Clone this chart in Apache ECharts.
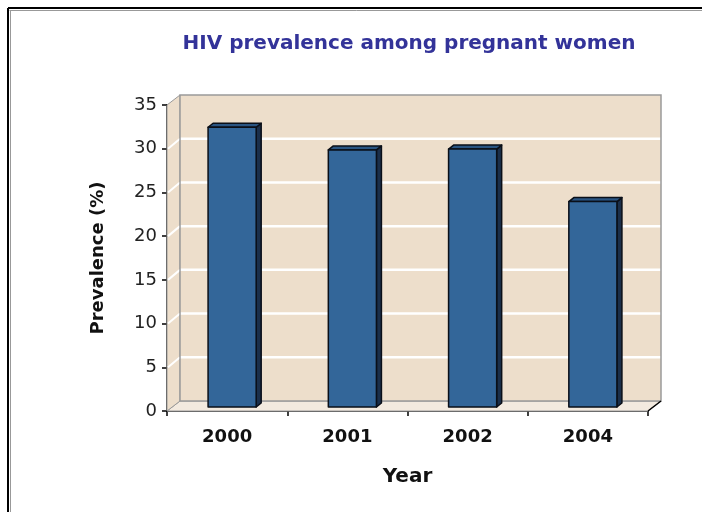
<!DOCTYPE html>
<html>
<head>
<meta charset="utf-8">
<script src="https://cdn.jsdelivr.net/npm/echarts@6/dist/echarts.min.js"></script>
<style>
html,body{margin:0;padding:0;background:#fff;}
#chart{width:702px;height:512px;}
</style>
</head>
<body>
<div id="chart"></div>
<script>
var titleText = 'HIV prevalence among pregnant women';
var years = ['2000', '2001', '2002', '2004'];
var prevalence = [32.0, 29.4, 29.5, 23.5];
var yTicks = [0, 5, 10, 15, 20, 25, 30, 35];
var xAxisName = 'Year';
var yAxisName = 'Prevalence (%)';

var DX = 13, DY = -10;       // wall depth offset
var BX1 = 5, BY1 = -4;       // bar front face offset
var BX2 = 10, BY2 = -8;      // bar back face offset
var WALL = '#EDDECB';
var FONT = '"DejaVu Sans", "Liberation Sans", Arial, sans-serif';

var chart = echarts.init(document.getElementById('chart'), null, {renderer: 'canvas'});

function wallRender(params, api) {
  var yMin = yTicks[0], yMax = yTicks[yTicks.length - 1];
  var n = years.length;
  var bw = api.size([1, 0])[0];
  var p0 = api.coord([0, yMin]);
  var p1 = api.coord([0, yMax]);
  var x0 = p0[0] - bw / 2;
  var x1 = api.coord([n - 1, yMin])[0] + bw / 2;
  var yb = p0[1], yt = p1[1];
  var children = [];
  children.push({type: 'polygon', shape: {points: [[x0, yb], [x1, yb], [x1 + DX, yb + DY], [x0 + DX, yb + DY]]},
    style: {fill: '#F3EADF', stroke: '#9a9a9a', lineWidth: 1}});
  children.push({type: 'polygon', shape: {points: [[x0, yb], [x0, yt], [x0 + DX, yt + DY], [x0 + DX, yb + DY]]},
    style: {fill: WALL, stroke: '#9a9a9a', lineWidth: 1}});
  children.push({type: 'rect', shape: {x: x0 + DX, y: yt + DY, width: x1 - x0, height: yb - yt},
    style: {fill: WALL, stroke: 'none'}});
  for (var i = 1; i < yTicks.length - 1; i++) {
    var yy = api.coord([0, yTicks[i]])[1];
    children.push({type: 'line', shape: {x1: x0 + DX, y1: yy + DY, x2: x1 + DX, y2: yy + DY},
      style: {stroke: '#ffffff', lineWidth: 2.5}});
    children.push({type: 'line', shape: {x1: x0 + 1, y1: yy, x2: x0 + DX, y2: yy + DY},
      style: {stroke: '#ffffff', lineWidth: 2}});
  }
  children.push({type: 'rect', shape: {x: x0 + DX, y: yt + DY, width: x1 - x0, height: yb - yt},
    style: {fill: 'none', stroke: '#9a9a9a', lineWidth: 1.5}});
  children.push({type: 'line', shape: {x1: x1, y1: yb, x2: x1 + DX, y2: yb + DY},
    style: {stroke: '#000', lineWidth: 1.5}});
  return {type: 'group', children: children};
}

function barRender(params, api) {
  var ci = api.value(0), v = api.value(1);
  var bw = api.size([1, 0])[0] * 0.4;
  var top = api.coord([ci, v]);
  var bot = api.coord([ci, 0]);
  var xl = top[0] - bw / 2, xr = top[0] + bw / 2;
  var yt = top[1], yb = bot[1];
  var stroke = {stroke: '#0a0f18', lineWidth: 1.5, lineJoin: 'round'};
  return {type: 'group', children: [
    {type: 'polygon', shape: {points: [[xr + BX1, yt + BY1], [xr + BX2, yt + BY2], [xr + BX2, yb + BY2], [xr + BX1, yb + BY1]]},
      style: Object.assign({fill: '#1B2F4A'}, stroke)},
    {type: 'polygon', shape: {points: [[xl + BX1, yt + BY1], [xl + BX2, yt + BY2], [xr + BX2, yt + BY2], [xr + BX1, yt + BY1]]},
      style: Object.assign({fill: '#2A5582'}, stroke)},
    {type: 'rect', shape: {x: xl + BX1, y: yt + BY1, width: bw, height: yb - yt},
      style: Object.assign({fill: '#336699'}, stroke)}
  ]};
}

chart.setOption({
  animation: false,
  backgroundColor: '#ffffff',
  title: {
    text: titleText, left: 404, textAlign: 'center', top: 29,
    textStyle: {color: '#333399', fontSize: 20, fontWeight: 'bold', fontFamily: FONT}
  },
  grid: {left: 167, right: 54, top: 105, bottom: 101},
  xAxis: {
    type: 'category', data: years,
    name: xAxisName, nameLocation: 'middle', nameGap: 56,
    nameTextStyle: {color: '#111', fontSize: 20, fontWeight: 'bold', fontFamily: FONT},
    axisLine: {show: true, lineStyle: {color: '#000', width: 1.5}},
    axisTick: {show: true, length: 5, lineStyle: {color: '#000', width: 1.5}},
    axisLabel: {color: '#111', fontSize: 18, fontWeight: 'bold', margin: 17, fontFamily: FONT},
    splitLine: {show: false}
  },
  yAxis: {
    type: 'value', min: 0, max: 35, interval: 5,
    name: yAxisName, nameLocation: 'middle', nameGap: 60, nameRotate: 90,
    nameTextStyle: {color: '#111', fontSize: 18, fontWeight: 'bold', fontFamily: FONT},
    axisLine: {show: true, lineStyle: {color: '#000', width: 1.5}},
    axisTick: {show: true, length: 5, lineStyle: {color: '#000', width: 1.5}},
    axisLabel: {color: '#222', fontSize: 18, margin: 10, fontFamily: FONT,
      formatter: function (v) { return yTicks.indexOf(v) >= 0 ? String(v) : ''; }},
    splitLine: {show: false}
  },
  graphic: [{
    type: 'group', silent: true, children: [
      {type: 'line', shape: {x1: 8, y1: 8, x2: 720, y2: 8}, style: {stroke: '#000', lineWidth: 2}},
      {type: 'line', shape: {x1: 8, y1: 8, x2: 8, y2: 530}, style: {stroke: '#000', lineWidth: 2}},
      {type: 'line', shape: {x1: 9.5, y1: 10.5, x2: 720, y2: 10.5}, style: {stroke: '#999', lineWidth: 1}},
      {type: 'line', shape: {x1: 10.5, y1: 10.5, x2: 10.5, y2: 530}, style: {stroke: '#999', lineWidth: 1}}
    ]
  }],
  series: [
    {type: 'custom', renderItem: wallRender, data: [[0, 0]], z: 1, silent: true, clip: false},
    {type: 'custom', renderItem: barRender, z: 3, clip: false,
      data: prevalence.map(function (v, i) { return [i, v]; })}
  ]
});
</script>
</body>
</html>
